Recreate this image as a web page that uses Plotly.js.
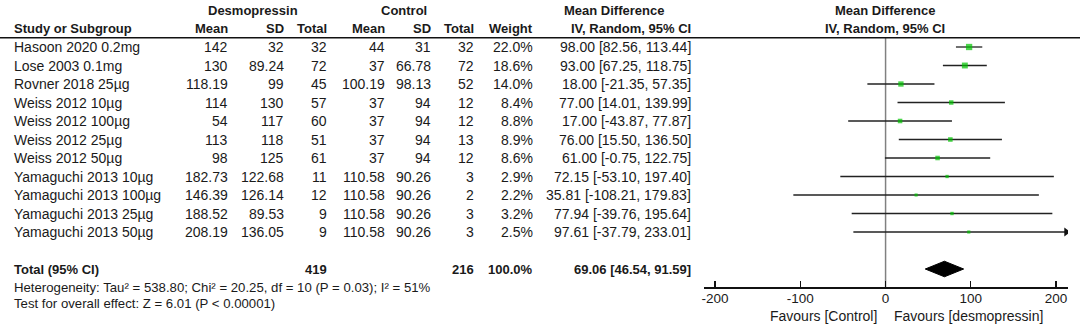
<!DOCTYPE html>
<html><head><meta charset="utf-8">
<script src="https://cdn.plot.ly/plotly-3.0.1.min.js"></script>
<style>html,body{margin:0;padding:0;background:#fff}#c{width:1080px;height:333px}</style>
</head><body><div id="c"></div>
<script>
// ---- data ----
const studies = ["Hasoon 2020 0.2mg","Lose 2003 0.1mg","Rovner 2018 25\u00b5g","Weiss 2012 10\u00b5g","Weiss 2012 100\u00b5g","Weiss 2012 25\u00b5g","Weiss 2012 50\u00b5g","Yamaguchi 2013 10\u00b5g","Yamaguchi 2013 100\u00b5g","Yamaguchi 2013 25\u00b5g","Yamaguchi 2013 50\u00b5g"];
const desMean = ["142","130","118.19","114","54","113","98","182.73","146.39","188.52","208.19"];
const desSD = ["32","89.24","99","130","117","118","125","122.68","126.14","89.53","136.05"];
const desTotal = ["32","72","45","57","60","51","61","11","12","9","9"];
const conMean = ["44","37","100.19","37","37","37","37","110.58","110.58","110.58","110.58"];
const conSD = ["31","66.78","98.13","94","94","94","94","90.26","90.26","90.26","90.26"];
const conTotal = ["32","72","52","12","12","13","12","3","2","3","3"];
const weight = [22.0,18.6,14.0,8.4,8.8,8.9,8.6,2.9,2.2,3.2,2.5];
const md = [98.00,93.00,18.00,77.00,17.00,76.00,61.00,72.15,35.81,77.94,97.61];
const lo = [82.56,67.25,-21.35,14.01,-43.87,15.50,-0.75,-53.10,-108.21,-39.76,-37.79];
const hi = [113.44,118.75,57.35,139.99,77.87,136.50,122.75,197.40,179.83,195.64,233.01];
const total = {des:"419", con:"216", weight:"100.0%", md:69.06, lo:46.54, hi:91.59};
const hetText = "Heterogeneity: Tau\u00b2 = 538.80; Chi\u00b2 = 20.25, df = 10 (P = 0.03); I\u00b2 = 51%";
const testText = "Test for overall effect: Z = 6.01 (P < 0.00001)";
const tickVals = [-200,-100,0,100,200];
const tickText = ["-200","-100","0","100","200"];
const favLeft = "Favours [Control]";
const favRight = "Favours [desmopressin]";

// ---- layout helpers ----
const W = 1080, H = 333;
const XMIN = -213, XMAX = 214;
const px = v => v / W;
const py = v => (H - v) / H;
const FONT = "Liberation Sans, Arial, sans-serif";
const TC = "#1a1a1a";
const rows = studies.map((s, i) => i);
const TOTROW = 12;

const traces = [];
// whiskers
studies.forEach((s, i) => {
  const x1 = Math.min(hi[i], XMAX);
  traces.push({type:"scatter", mode:"lines", x:[Math.max(lo[i], XMIN), x1], y:[i, i],
    line:{color:"#222", width:1.3}, hoverinfo:"skip", showlegend:false});
  if (hi[i] > XMAX) {
    traces.push({type:"scatter", mode:"markers", x:[XMAX - 2], y:[i],
      marker:{symbol:"triangle-right", size:8, color:"#111"}, hoverinfo:"skip", showlegend:false});
  }
});
// squares
traces.push({type:"scatter", mode:"markers", x:md, y:rows,
  marker:{symbol:"square", color:"rgb(0,195,0)", size:weight.map(w => 1.6 + Math.sqrt(w) * 1.0), line:{width:0}},
  hoverinfo:"skip", showlegend:false});
// diamond
const dh = 0.42;
traces.push({type:"scatter", mode:"lines", fill:"toself", fillcolor:"#000",
  x:[total.lo, total.md, total.hi, total.md, total.lo], y:[TOTROW, TOTROW - dh, TOTROW, TOTROW + dh, TOTROW],
  line:{color:"#000", width:1}, hoverinfo:"skip", showlegend:false});

const ann = [];
function t(text, x, y, anchor, bold, yref, size) {
  ann.push({text: bold ? "<b>" + text + "</b>" : text, x: px(x), xref:"paper", y: y, yref: yref || "y",
    xanchor: anchor, yanchor:"middle", showarrow:false, font:{family:FONT, size: size || (bold ? 13 : 14), color:TC}});
}
// headers
t("Desmopressin", 252.5, -2, "center", true);
t("Control", 404, -2, "center", true);
t("Mean Difference", 613.5, -2, "center", true);
t("Mean Difference", 885, -2, "center", true);
t("Study or Subgroup", 12, -1, "left", true);
t("Mean", 230, -1, "right", true);
t("SD", 286, -1, "right", true);
t("Total", 329, -1, "right", true);
t("Mean", 387, -1, "right", true);
t("SD", 433, -1, "right", true);
t("Total", 476, -1, "right", true);
t("Weight", 535, -1, "right", true);
t("IV, Random, 95% CI", 693, -1, "right", true);
t("IV, Random, 95% CI", 885, -1, "center", true);
// rows
studies.forEach((s, i) => {
  t(s, 12, i, "left");
  t(desMean[i], 230, i, "right");
  t(desSD[i], 286, i, "right");
  t(desTotal[i], 329, i, "right");
  t(conMean[i], 387, i, "right");
  t(conSD[i], 433, i, "right");
  t(conTotal[i], 476, i, "right");
  t(weight[i].toFixed(1) + "%", 535, i, "right");
  t(md[i].toFixed(2) + " [" + lo[i].toFixed(2) + ", " + hi[i].toFixed(2) + "]", 693, i, "right");
});
// total
t("Total (95% CI)", 12, TOTROW, "left", true);
t(total.des, 329, TOTROW, "right", true);
t(total.con, 476, TOTROW, "right", true);
t(total.weight, 535, TOTROW, "right", true);
t(total.md.toFixed(2) + " [" + total.lo.toFixed(2) + ", " + total.hi.toFixed(2) + "]", 693, TOTROW, "right", true);
t(hetText, 12, py(287.5), "left", false, "paper", 13.2);
t(testText, 12, py(303), "left", false, "paper", 13.2);
t(favLeft, 879, py(315.5), "right", false, "paper");
t(favRight, 892, py(315.5), "left", false, "paper");

const yBottom = (H - 287) / H;
const layout = {
  width: W, height: H, margin:{l:0, r:0, t:0, b:0}, paper_bgcolor:"#fff", plot_bgcolor:"rgba(0,0,0,0)",
  showlegend:false,
  xaxis:{domain:[704 / W, 1068 / W], range:[XMIN, XMAX], showgrid:false, zeroline:false,
    showline:true, linecolor:"#111", linewidth:1.5, ticks:"inside", ticklen:6, tickcolor:"#111", tickwidth:1.3,
    tickvals:tickVals, ticktext:tickText, tickfont:{family:FONT, size:13.5, color:TC}, ticklabelstandoff:-2, fixedrange:true},
  yaxis:{domain:[yBottom, 1], range:[(287 - 47) / 18.5, -47 / 18.5], visible:false, fixedrange:true},
  annotations: ann,
  shapes:[
    {type:"line", xref:"paper", yref:"y", x0:0, x1:1, y0:-0.5, y1:-0.5, line:{color:"#111", width:1.5}},
    {type:"line", xref:"x", yref:"y", x0:0, x1:0, y0:-0.5, y1:(287 - 47) / 18.5, line:{color:"#808080", width:1.5}, layer:"below"}
  ]
};
Plotly.newPlot("c", traces, layout, {staticPlot:true, displayModeBar:false});
</script></body></html>
